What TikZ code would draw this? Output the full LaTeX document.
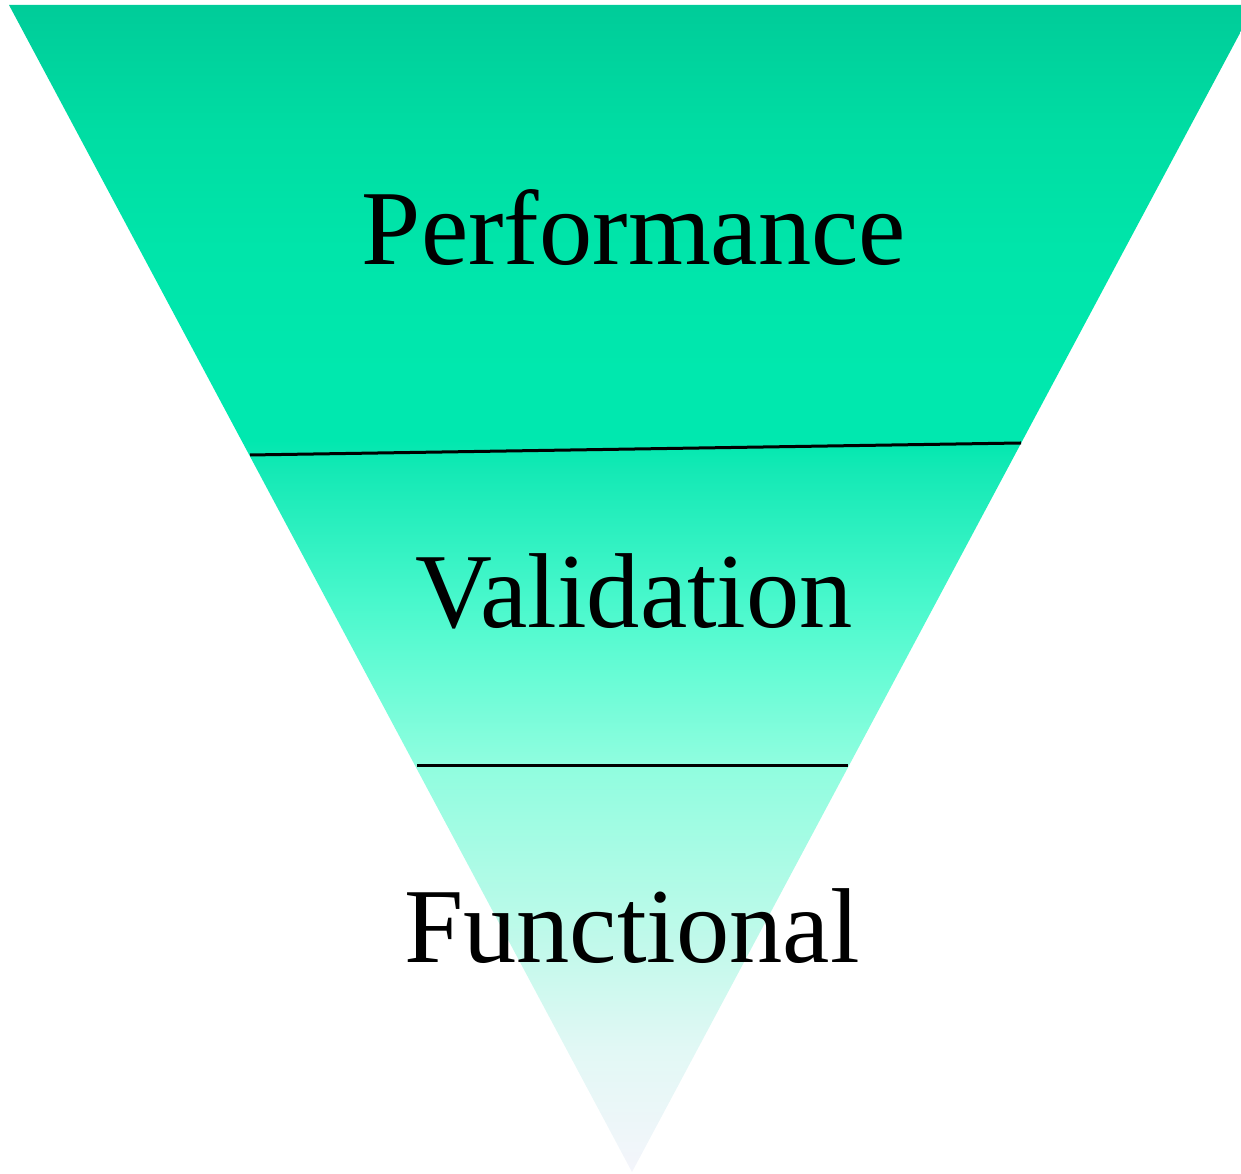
\documentclass[tikz,border=0pt]{standalone}
\usepackage{fontspec}
\setmainfont{Liberation Serif}
\definecolor{g00}{HTML}{F4F5FB}
\definecolor{g01}{HTML}{E2F8F5}
\definecolor{g02}{HTML}{C3F9EB}
\definecolor{g03}{HTML}{90FDDF}
\definecolor{g04}{HTML}{6AFCD6}
\definecolor{g05}{HTML}{48F8CC}
\definecolor{g06}{HTML}{14E9B5}
\definecolor{g07}{HTML}{00E8AF}
\definecolor{g08}{HTML}{00E8AE}
\definecolor{g09}{HTML}{00E5AA}
\definecolor{g10}{HTML}{00DDA3}
\definecolor{g11}{HTML}{00CC99}
\pgfdeclareverticalshading{trishade}{100bp}{
  color(0bp)=(g00); color(25bp)=(g00); color(30.2bp)=(g01); color(34.5bp)=(g02);
  color(42.4bp)=(g03); color(46.1bp)=(g04); color(49.5bp)=(g05); color(55.1bp)=(g06);
  color(56.4bp)=(g07); color(59bp)=(g08); color(64.5bp)=(g09); color(69.6bp)=(g10);
  color(75bp)=(g11); color(100bp)=(g11)}
\tikzset{
  sep line/.style={line width=3pt, black},
  level text/.style={anchor=base, inner sep=0pt, font=\fontsize{106.5}{120}\selectfont}
}
\begin{document}
\begin{tikzpicture}[x=1pt,y=1pt]
\useasboundingbox (0,0) rectangle (1241,1174);
\shade[shading=trishade] (9,1169) -- (1255,1169) -- (632,2) -- cycle;
\coordinate (l1a) at (250,719);
\coordinate (l1b) at (1021,731);
\coordinate (l2a) at (417,408);
\coordinate (l2b) at (848,408);
\draw[sep line] (l1a) -- (l1b);
\draw[sep line] (l2a) -- (l2b);
\node[level text] (perf) at (634,909) {Performance};
\node[level text] (valid) at (634,546) {Validation};
\node[level text] (func) at (632,211) {Functional};
\end{tikzpicture}
\end{document}
